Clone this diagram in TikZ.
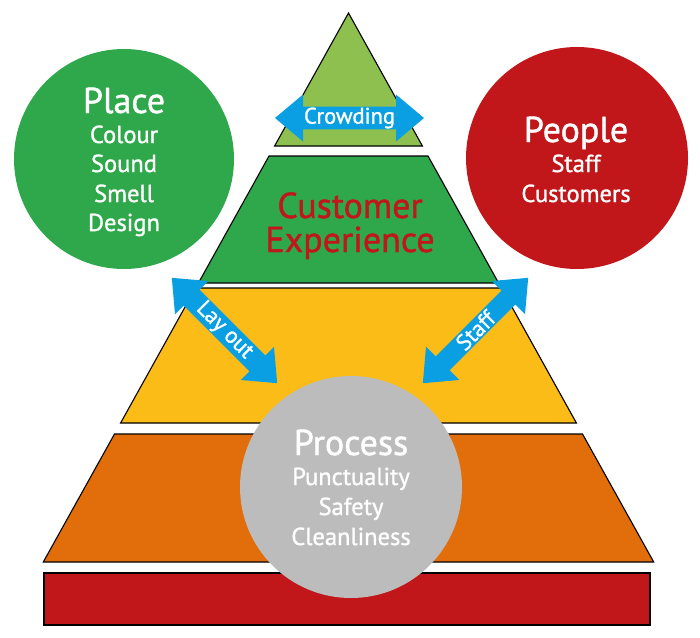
\documentclass[tikz,border=0pt]{standalone}
\usepackage{fontspec}
\setmainfont{PT Sans}
\newfontfamily\medfont{PT Sans}[FakeBold=1.2]
\usetikzlibrary{shapes.arrows}
\definecolor{lgreen}{HTML}{8DC04F}
\definecolor{dgreen}{HTML}{2EA84A}
\definecolor{myyellow}{HTML}{FCBC18}
\definecolor{myorange}{HTML}{E26D0B}
\definecolor{myred}{HTML}{C1171A}
\definecolor{mygray}{HTML}{BDBCBC}
\definecolor{myblue}{HTML}{0A9FE3}
\tikzset{
  layer/.style={draw=black, line width=1.1pt, line join=miter},
  bubble/.style={circle, inner sep=0pt, draw=none},
  head/.style={anchor=base, text=white, font=\medfont\fontsize{36}{36}\selectfont},
  item/.style={anchor=base, text=white, font=\medfont\fontsize{24.5}{24.5}\selectfont},
  cetext/.style={anchor=base, text=myred, font=\medfont\fontsize{36}{36}\selectfont},
  dblarrow/.style={shape=double arrow, fill=myblue, text=white, inner sep=0pt,
    minimum height=149pt, minimum width=47pt, double arrow head extend=11.5pt,
    double arrow tip angle=80, font=\medfont\fontsize{22.5}{22.5}\selectfont}
}
\begin{document}
\begin{tikzpicture}[x=1pt,y=-1pt]
\useasboundingbox[fill=white] (0,0) rectangle (700,637);
% pyramid layers
\path[layer, fill=lgreen] (348.5,13) -- (422.4,146) -- (274.6,146) -- cycle;
\path[layer, fill=dgreen] (269,156) -- (428,156) -- (498.6,283) -- (198.4,283) -- cycle;
\path[layer, fill=myyellow] (195.6,288) -- (501.4,288) -- (576.4,423) -- (120.6,423) -- cycle;
\path[layer, fill=myorange] (114.5,434) -- (582.5,434) -- (653.7,562) -- (43.3,562) -- cycle;
\path[layer, fill=myred] (44,573) rectangle (650,625);
% circles
\node[bubble, fill=dgreen, minimum size=220pt] (place) at (124,159) {};
\node[bubble, fill=myred, minimum size=222pt] (people) at (577,158) {};
\node[bubble, fill=mygray, minimum size=222pt] (process) at (351,487) {};
% texts
\node[head] (placeT) at (124,113) {Place};
\node[item] (colour) at (124,143) {Colour};
\node[item] (sound) at (124,172) {Sound};
\node[item] (smell) at (124,202) {Smell};
\node[item] (design) at (124,231) {Design};
\node[head] (peopleT) at (576,142) {People};
\node[item] (staffT) at (576,172) {Staff};
\node[item] (customers) at (576,202) {Customers};
\node[head] (processT) at (351,455) {Process};
\node[item] (punct) at (351,485) {Punctuality};
\node[item] (safety) at (351,515) {Safety};
\node[item] (clean) at (351,545) {Cleanliness};
\node[cetext] (cust) at (350,218) {Customer};
\node[cetext] (exper) at (350,252) {Experience};
% arrows
\node[dblarrow] (crowd) at (349.5,118) {Crowding};
\node[dblarrow, rotate=-45] (layout) at (224.5,330.5) {Lay out};
\node[dblarrow, rotate=45] (staffarrow) at (475.5,330.5) {Staff};
\end{tikzpicture}
\end{document}
